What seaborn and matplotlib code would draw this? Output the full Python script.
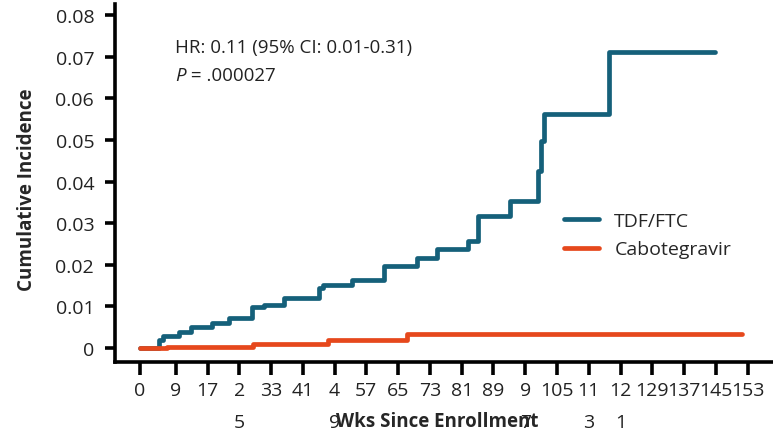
import numpy as np
import pandas as pd
import matplotlib
matplotlib.use("Agg")
import matplotlib.pyplot as plt
import seaborn as sns

# step curves (weeks, cumulative incidence)
tdf_weeks = [0, 4.9, 5.7, 9.8, 12.8, 18.1, 22.4, 28.1, 31.1, 36.3, 45.0, 46.1, 53.3,
             61.5, 69.7, 74.7, 82.5, 85.0, 93.2, 100.3, 101.1, 101.8, 118.2, 144.8]
tdf_inc = [0, 0.0020, 0.0028, 0.0039, 0.0050, 0.0060, 0.0071, 0.0098, 0.0104, 0.0119,
           0.0143, 0.0150, 0.0164, 0.0198, 0.0216, 0.0238, 0.0258, 0.0318, 0.0354,
           0.0426, 0.0498, 0.0563, 0.0712, 0.0712]
cab_weeks = [0, 6.7, 28.5, 47.4, 67.2, 151.6]
cab_inc = [0, 0.0003, 0.0010, 0.0020, 0.0034, 0.0034]

arms = ["TDF/FTC", "Cabotegravir"]
arm_colors = ["#15607a", "#e6481c"]

x_ticks = [0] + list(range(9, 154, 8))
x_tick_labels = ["0", "9", "17", "2\n5", "33", "41", "4\n9", "57", "65", "73", "81",
                 "89", "9\n7", "105", "11\n3", "12\n1", "129", "137", "145", "153"]
y_ticks = [0, 0.01, 0.02, 0.03, 0.04, 0.05, 0.06, 0.07, 0.08]
y_tick_labels = ["0", "0.01", "0.02", "0.03", "0.04", "0.05", "0.06", "0.07", "0.08"]

df = pd.concat([
    pd.DataFrame({"week": tdf_weeks, "inc": tdf_inc, "arm": arms[0]}),
    pd.DataFrame({"week": cab_weeks, "inc": cab_inc, "arm": arms[1]}),
])

sns.set_theme(style="ticks")
plt.rcParams["font.family"] = ["Open Sans", "DejaVu Sans"]

fig = plt.figure(figsize=(7.73, 4.35), dpi=100)
ax = fig.add_axes([115 / 773, 72 / 435, 658 / 773, 358 / 435])

sns.lineplot(data=df, x="week", y="inc", hue="arm", hue_order=arms,
             palette=arm_colors, drawstyle="steps-post", linewidth=3.4,
             estimator=None, ax=ax)

ax.set_xlim(-6.3, 159.4)
ax.set_ylim(-0.0034, 0.0827)
ax.set_xticks(x_ticks)
ax.set_xticklabels(x_tick_labels, fontsize=14, linespacing=1.95, va="top")
ax.set_yticks(y_ticks)
ax.set_yticklabels(y_tick_labels, fontsize=14)

for side in ["top", "right"]:
    ax.spines[side].set_visible(False)
for side in ["left", "bottom"]:
    ax.spines[side].set_linewidth(2.6)
    ax.spines[side].set_color("black")
ax.tick_params(axis="y", length=7, width=2.6, pad=8, colors="black", labelcolor="#222222")
ax.tick_params(axis="x", length=9, width=2.6, pad=5, colors="black", labelcolor="#222222")

ax.set_xlabel("Wks Since Enrollment", fontsize=13.5, fontweight="bold")
ax.set_ylabel("Cumulative Incidence", fontsize=13.5, fontweight="bold")
ax.xaxis.set_label_coords(0.489, -0.138)
ax.yaxis.set_label_coords(-0.118, 0.483)

fig.text(175 / 773, 1 - 48 / 435, "HR: 0.11 (95% CI: 0.01-0.31)", fontsize=13.5,
         va="center", color="#222222")
p = fig.text(175 / 773, 1 - 76 / 435, "P", fontsize=13.5, va="center",
             style="italic", color="#222222")
ax.annotate(" = .000027", xy=(1, 0), xycoords=p, va="bottom", fontsize=13.5,
            color="#222222")

ax.legend(title=None, frameon=False, loc="upper left",
          bbox_to_anchor=(554 / 773, 1 - 203 / 435), bbox_transform=fig.transFigure,
          fontsize=14, handlelength=1.8, handletextpad=0.8, labelspacing=0.55,
          borderpad=0)

fig.savefig("out.png", dpi=100)
